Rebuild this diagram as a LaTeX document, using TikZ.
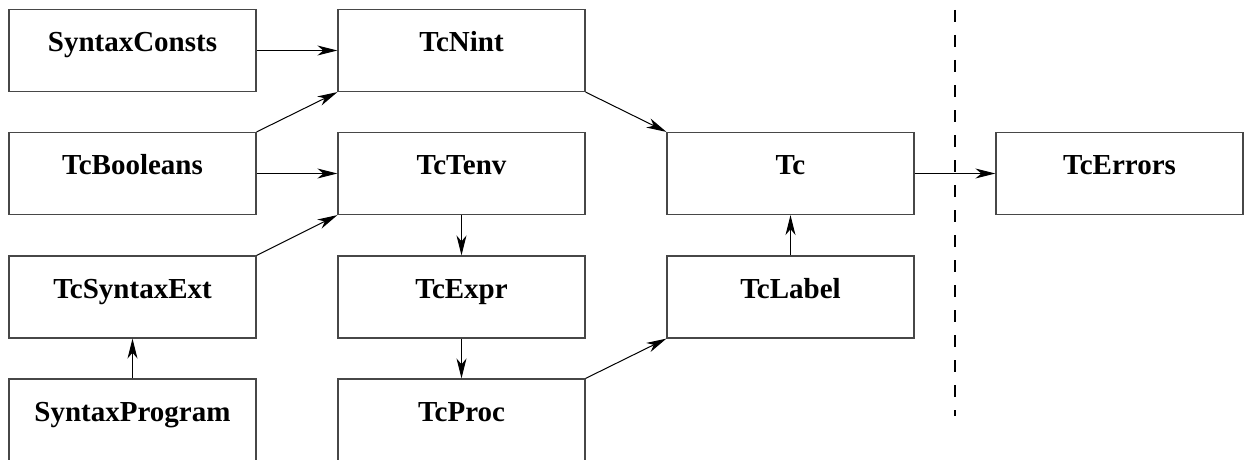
\documentclass[tikz,border=0pt]{standalone}
\usepackage{fontspec}
\setmainfont{Liberation Serif}
\usetikzlibrary{arrows.meta}

\tikzset{
  module/.style={draw=black!72, line width=1.2pt, rectangle, inner sep=0pt,
    minimum width=247pt, minimum height=82pt,
    text height=20pt, text depth=18pt,
    font=\fontsize{29}{31}\selectfont\bfseries},
  dep/.style={draw=black, line width=1pt,
    -{Stealth[length=20pt, width=10pt, inset=6pt]}},
  boundary/.style={draw=black, line width=2pt, dash pattern=on 12pt off 13pt}
}

\begin{document}
\begin{tikzpicture}[x=1pt, y=-1pt]
  \useasboundingbox (0,0) rectangle (1244,460);
  \clip (0,0) rectangle (1244,460);

  % first column
  \node[module] (sconsts) at (132.5,50.5)  {SyntaxConsts};
  \node[module] (tbool)   at (132.5,173.5) {TcBooleans};
  \node[module] (tsynext) at (132.5,297)   {TcSyntaxExt};
  \node[module] (sprog)   at (132.5,420)   {SyntaxProgram};

  % second column
  \node[module] (tnint)   at (461.5,50.5)  {TcNint};
  \node[module] (ttenv)   at (461.5,173.5) {TcTenv};
  \node[module] (texpr)   at (461.5,297)   {TcExpr};
  \node[module] (tproc)   at (461.5,420)   {TcProc};

  % third column
  \node[module] (tc)      at (790.5,173.5) {Tc};
  \node[module] (tlabel)  at (790.5,297)   {TcLabel};

  % beyond the boundary
  \node[module] (terrors) at (1119.5,173.5) {TcErrors};

  \coordinate (btop) at (955,10);
  \coordinate (bbot) at (955,416);
  \draw[boundary] (btop) -- (bbot);

  % dependencies
  \draw[dep] (sconsts.east) -- (tnint.west);
  \draw[dep] (tbool.north east) -- (tnint.south west);
  \draw[dep] (tbool.east) -- (ttenv.west);
  \draw[dep] (tsynext.north east) -- (ttenv.south west);
  \draw[dep] (sprog.north) -- (tsynext.south);
  \draw[dep] (ttenv.south) -- (texpr.north);
  \draw[dep] (texpr.south) -- (tproc.north);
  \draw[dep] (tproc.north east) -- (tlabel.south west);
  \draw[dep] (tnint.south east) -- (tc.north west);
  \draw[dep] (tlabel.north) -- (tc.south);
  \draw[dep] (tc.east) -- (terrors.west);
\end{tikzpicture}
\end{document}
